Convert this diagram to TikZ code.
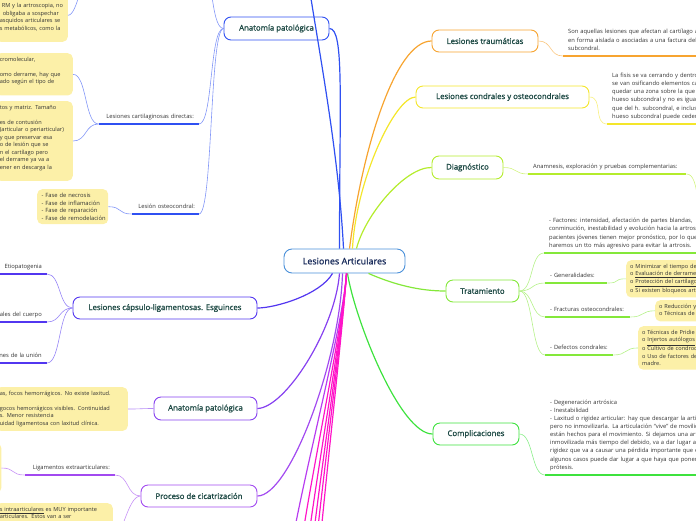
\documentclass[tikz,border=0pt]{standalone}
\usepackage{fontspec}
\setmainfont{Open Sans}
\newfontfamily\topicfont{Open Sans}[FakeBold=1.2]
\usetikzlibrary{positioning}

\definecolor{rootline}{HTML}{4A90D9}
\definecolor{roottext}{HTML}{1B2D5C}
\definecolor{topictext}{HTML}{1E4A45}
\definecolor{txt}{HTML}{333333}
\definecolor{notefill}{HTML}{FCF0A8}
\definecolor{cTrauma}{HTML}{F7A430}
\definecolor{cCondral}{HTML}{F4E62A}
\definecolor{cDiag}{HTML}{B4EC2C}
\definecolor{cTrat}{HTML}{84E83A}
\definecolor{cCompl}{HTML}{3EE23E}
\definecolor{cAnat}{HTML}{2F50F2}
\definecolor{cEsg}{HTML}{5236F0}
\definecolor{cAnatB}{HTML}{8640F0}
\definecolor{cProc}{HTML}{A24AF0}
\definecolor{cViol}{HTML}{B83CF0}
\definecolor{cPink}{HTML}{FF14C8}

\tikzset{
  topic/.style={draw=#1, line width=0.9pt, rounded corners=7pt, fill=white, text=topictext,
    font=\fontsize{7.8}{9}\topicfont, minimum height=22pt, inner sep=2pt},
  stem/.style={line width=1.2pt},
  link/.style={line width=0.6pt},
  uline/.style={line width=1.6pt},
  sub/.style={font=\fontsize{5.8}{8.1}\selectfont, text=txt, inner xsep=5pt, inner ysep=3.2pt,
    align=left},
  note/.style={font=\fontsize{5.6}{7.5}\selectfont, text=txt, fill=notefill, rounded corners=5pt,
    inner xsep=4pt, inner ysep=4pt, align=left},
}

\begin{document}
\begin{tikzpicture}[x=1pt,y=-1pt]
\useasboundingbox (0,0) rectangle (696,520);
\clip (0,0) rectangle (696,520);

% main topics
\node[topic=rootline, text=roottext, minimum width=121pt, minimum height=24pt, rounded corners=8pt,
  font=\fontsize{9}{10}\topicfont] (root) at (344.5,261) {Lesiones Articulares};
\node[topic=cTrauma, minimum width=106pt] (trauma) at (485,41) {Lesiones traumáticas};
\node[topic=cCondral, minimum width=173pt] (condral) at (502.5,97) {Lesiones condrales y osteocondrales};
\node[topic=cDiag, minimum width=71pt, minimum height=23pt] (diag) at (467.5,167.5) {Diagnóstico};
\node[topic=cTrat, minimum width=73pt] (trat) at (482.5,291) {Tratamiento};
\node[topic=cCompl, minimum width=86pt] (compl) at (476,434) {Complicaciones};
\node[topic=cAnat, minimum width=105pt, minimum height=23pt] (anat1) at (276.5,28.5) {Anatomía patológica};
\node[topic=cEsg, minimum width=184pt] (esg) at (165,308) {Lesiones cápsulo-ligamentosas. Esguinces};
\node[topic=cAnatB, minimum width=103pt, minimum height=23pt] (anat2) at (205.5,408.5) {Anatomía patológica};
\node[topic=cProc, minimum width=116pt] (proc) at (199,496) {Proceso de cicatrización};

% loose ends off the page
\coordinate (topup) at (300,-80);
\coordinate (anatup) at (199,-45);
\coordinate (noteup) at (92,-30);
\coordinate (ligint) at (108,545);
\coordinate (diagbox) at (708,215);

% stems from the root
\draw[stem, cAnat] ([xshift=-1pt]root.north) .. controls +(-6,-120) and +(8,80) .. (topup);
\draw[stem, cAnat] ([xshift=-5pt]root.north) .. controls +(0,-150) and +(15,0) .. (anat1.east);
\draw[stem, cTrauma] ([xshift=5pt]root.north) .. controls (362,150) and (395,41) .. (trauma.west);
\draw[stem, cCondral] ([xshift=8pt]root.north) .. controls (356,180) and (395,97) .. (condral.west);
\draw[stem, cDiag] ([xshift=12pt]root.north) .. controls (365,215) and (405,167) .. (diag.west);
\draw[stem, cTrat] ([xshift=24pt]root.south) .. controls (395,285) and (420,291) .. (trat.west);
\draw[stem, cCompl] ([xshift=3pt]root.south) .. controls (355,320) and (400,434) .. (compl.west);
\draw[stem, cEsg] ([xshift=-12pt]root.south) .. controls (320,295) and (275,308) .. (esg.east);
\draw[stem, cAnatB] ([xshift=-5pt]root.south) .. controls (335,330) and (285,408) .. (anat2.east);
\draw[stem, cProc] ([xshift=-2pt]root.south) .. controls (340,360) and (290,496) .. (proc.east);
\foreach \x/\c in {287/cViol, 297/cPink, 304/cPink, 309/cPink, 313/cPink, 317/cPink}
  \draw[stem, \c] ([xshift=2pt]root.south) .. controls +(-4,60) and +(4,-60) .. (\x,580);

% left side
\node[sub, anchor=south east, text width=90pt, align=right] (cartdir) at (199,124) {\mbox{Lesiones cartilaginosas directas:}\strut};
\node[sub, anchor=south east, text width=59pt, inner xsep=4pt, align=right] (osteo) at (199,214) {\mbox{Lesión osteocondral:}\strut};
\node[note, anchor=south east, text width=64pt] (topnote) at (68,42)
  {\mbox{}\\\mbox{}\\\mbox{\hspace*{2pt}RM y la artroscopia, no}\\\mbox{\hspace*{3pt}obligaba a sospechar}\\\mbox{asquidos articulares se}\\\mbox{s metabólicos, como la}\\\mbox{}};
\node[note, anchor=north east, text width=69pt] (cartnoteA) at (73,53)
  {cromolecular,\\[7.5pt]omo derrame, hay que\\ado según el tipo de\\\mbox{}};
\node[note, anchor=north east, text width=69pt] (cartnoteB) at (73,101)
  {tos y matriz. Tamaño\\[7.5pt]es de contusión\\(articular o periarticular)\\y que preservar esa\\o de lesión que se\\n el cartílago pero\\el derrame ya va a\\ener en descarga la\\\mbox{}};
\node[note, anchor=north west, text width=62pt, inner xsep=4.5pt, font=\fontsize{5.8}{7.5}\selectfont] (fases) at (37,189)
  {- Fase de necrosis\\- Fase de inflamación\\- Fase de reparación\\\mbox{- Fase de remodelación}};

\node[sub, anchor=south east, text width=70pt, align=right] (etio) at (47,274) {Etiopatogenia\strut};
\node[sub, anchor=south east, text width=70pt, align=right] (cuerpo) at (47,322) {ales del cuerpo\strut};
\node[sub, anchor=south east, text width=70pt, align=right] (union) at (47,363) {nes de la unión\strut};

\node[note, anchor=north east, text width=124pt] (anatnote) at (128,387)
  {as, focos hemorrágicos. No existe laxitud.\\[7.5pt]gocos hemorrágicos visibles. Continuidad\\s. Menor resistencia\\uidad ligamentosa con laxitud clínica.};

\node[sub, anchor=south east, text width=80pt, align=right] (ligext) at (115,475) {\mbox{Ligamentos extraarticulares:}\strut};
\node[note, anchor=east, text width=60pt, minimum height=50pt] (ligextnote) at (1.5,468) {};
\node[note, anchor=north east, text width=109pt] (ligintnote) at (113,503)
  {\underline{s intraarticulares} es MUY importante\\articulares. Éstos van a ser\\\mbox{}};

% right side
\node[sub, anchor=south west, text width=250pt] (traumanote) at (563,56)
  {Son aquellas lesiones que afectan al cartílago articular\\en forma aislada o asociadas a una factura del hueso\\subcondral.\strut};
\node[sub, anchor=south west, text width=250pt] (condralnote) at (607,124)
  {La fisis se va cerrando y dentro de ella\\se van osificando elementos cartilaginosos\\quedar una zona sobre la que\\hueso subcondral y no es igual\\que del h. subcondral, e incluso\\hueso subcondral puede ceder\strut};
\node[sub, anchor=south west, text width=148pt] (diagsub) at (528,174)
  {\mbox{Anamnesis, exploración y pruebas complementarias:}\strut};
\node[sub, anchor=south west, text width=250pt] (factores) at (544,253)
  {- Factores: intensidad, afectación de partes blandas,\\conminución, inestabilidad y evolución hacia la artrosis.\\pacientes jóvenes tienen mejor pronóstico, por lo que\\haremos un tto más agresivo para evitar la artrosis.\strut};
\node[sub, anchor=south west, text width=52pt] (general) at (545,283) {\mbox{- Generalidades:}\strut};
\node[sub, anchor=south west, text width=75pt] (fract) at (545,317) {\mbox{- Fracturas osteocondrales:}\strut};
\node[sub, anchor=south west, text width=58pt] (defect) at (545,355) {\mbox{- Defectos condrales:}\strut};
\node[note, anchor=north west, text width=200pt] (genbox) at (626,260)
  {o Minimizar el tiempo de inmovilización\\o \underline{Evaluación de derrame}\\o \underline{Protección del cartílago}\\o Si existen bloqueos articulares};
\node[note, anchor=north west, text width=200pt] (fractbox) at (655,300)
  {o Reducción y fijación\\o Técnicas de reparación};
\node[note, anchor=north west, text width=200pt] (defbox) at (638,326)
  {o Técnicas de Pridie\\o \underline{Injertos autólogos}\\o Cultivo de condrocitos\\o Uso de factores de crecimiento y células\\madre.};
\node[sub, anchor=south west, text width=250pt] (complsub) at (545,475)
  {- Degeneración artrósica\\- Inestabilidad\\- Laxitud o rigidez articular: hay que descargar la articulación\\pero no inmovilizarla. La articulación “vive” de movilidad\\están hechos para el movimiento. Si dejamos una articulación\\inmovilizada más tiempo del debido, va a dar lugar a\\rigidez que va a causar una pérdida importante que en\\algunos casos puede dar lugar a que haya que poner una\\prótesis.\strut};

% underlines
\foreach \n/\c in {cartdir/cAnat, osteo/cAnat, etio/cEsg, cuerpo/cEsg, union/cEsg, ligext/cProc,
  traumanote/cTrauma, condralnote/cCondral, diagsub/cDiag, factores/cTrat, general/cTrat,
  fract/cTrat, defect/cTrat, complsub/cCompl}
  \draw[uline, draw=\c] (\n.south west) -- (\n.south east);

% links, leftwards
\foreach \a/\b/\c in {anat1.west/anatup/cAnat, anat1.west/cartdir.south east/cAnat,
  anat1.west/osteo.south east/cAnat, cartdir.south west/cartnoteA.east/cAnat,
  cartdir.south west/cartnoteB.east/cAnat, osteo.south west/fases.east/cAnat,
  esg.west/etio.south east/cEsg, esg.west/cuerpo.south east/cEsg, esg.west/union.south east/cEsg,
  anat2.west/anatnote.east/cAnatB, proc.west/ligext.south east/cProc, proc.west/ligint/cProc,
  ligext.south west/ligextnote.east/cProc}
  \draw[link, draw=\c!60] (\a) .. controls +(-14,0) and +(14,0) .. (\b);
\draw[link, draw=cAnat!60] (topnote.east) .. controls +(10,0) and +(-10,0) .. (noteup);

% links, rightwards
\foreach \a/\b/\c in {trauma.east/traumanote.south west/cTrauma,
  condral.east/condralnote.south west/cCondral, diag.east/diagsub.south west/cDiag,
  diagsub.south east/diagbox/cDiag, trat.east/factores.south west/cTrat,
  trat.east/general.south west/cTrat, trat.east/fract.south west/cTrat,
  trat.east/defect.south west/cTrat, general.south east/genbox.west/cTrat,
  fract.south east/fractbox.west/cTrat, defect.south east/defbox.west/cTrat,
  compl.east/complsub.south west/cCompl}
  \draw[link, draw=\c!60] (\a) .. controls +(14,0) and +(-14,0) .. (\b);
\end{tikzpicture}
\end{document}
